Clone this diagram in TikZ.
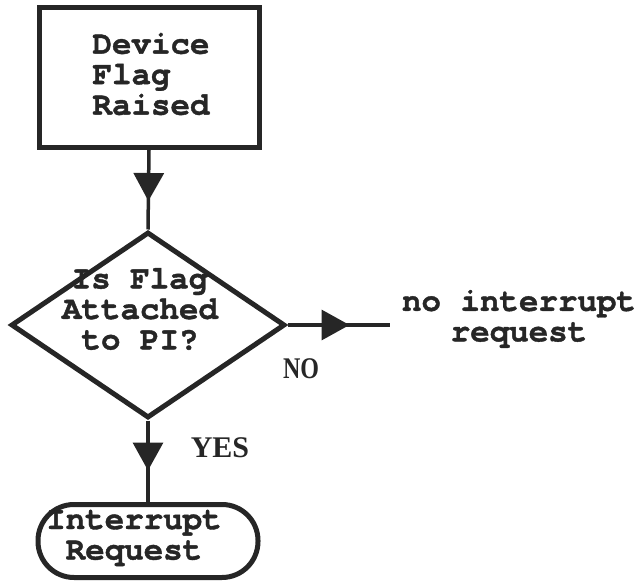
\documentclass[tikz,border=0pt]{standalone}
\usepackage{fontspec}
\usepackage{graphicx}
\setmonofont{texgyrecursor}[Extension=.otf, UprightFont=*-regular, BoldFont=*-bold, BoldFeatures={FakeBold=1.2}]
\newfontfamily\labelfont{Liberation Serif}
\usetikzlibrary{shapes.geometric,decorations.markings,arrows.meta}

\begin{document}
\begin{tikzpicture}[x=1pt,y=-1pt,
  inkcol/.style={draw=black!85},
  shapeline/.style={inkcol, line width=5pt},
  procbox/.style={shapeline, rectangle, minimum width=220pt, minimum height=140pt, inner sep=0pt},
  decbox/.style={shapeline, diamond, minimum width=274pt, minimum height=186pt, inner sep=0pt},
  termbox/.style={shapeline, rectangle, rounded corners=36pt, minimum width=220pt, minimum height=73pt, inner sep=0pt},
  boxtext/.style={font=\ttfamily\bfseries\fontsize{32.5}{30.5}\selectfont, text=black!85, inner sep=0pt},
  branchtext/.style={font=\labelfont\bfseries\fontsize{30}{30}\selectfont, text=black!85, inner sep=0pt},
  flow/.style={inkcol, line width=3.5pt, postaction={decorate},
    decoration={markings, mark=at position #1 with {\arrow[black!85]{Triangle[length=28pt,width=30pt]}}}}
]
\useasboundingbox (0,0) rectangle (638,583);

% shapes
\node[procbox] (flag) at (149,77.5) {};
\node[decbox] (dec) at (148,325) {};
\node[termbox] (irq) at (148,541) {};
\coordinate (noend) at (390,325);

% texts
\node[boxtext, align=left] (flagtext) at (151,74) {Device\\Flag\\Raised};
\node[boxtext, align=center] (dectext) at (140,309) {Is Flag\\Attached\\to PI?};
\node[boxtext, align=center] (irqtext) at (134,538) {Interrupt\\Request};
\node[boxtext, align=center] (notext) at (519,319) {no interrupt\\request};
\node[branchtext] (nolabel) at (301,369) {\scalebox{0.8}[1]{NO}};
\node[branchtext] (yeslabel) at (220,448) {YES};

% connectors
\draw[flow=51pt] (flag.south) -- (dec.north);
\draw[flow=62pt] (dec.east) -- (noend);
\draw[flow=50pt] (dec.south) -- (irq.north);
\end{tikzpicture}
\end{document}
